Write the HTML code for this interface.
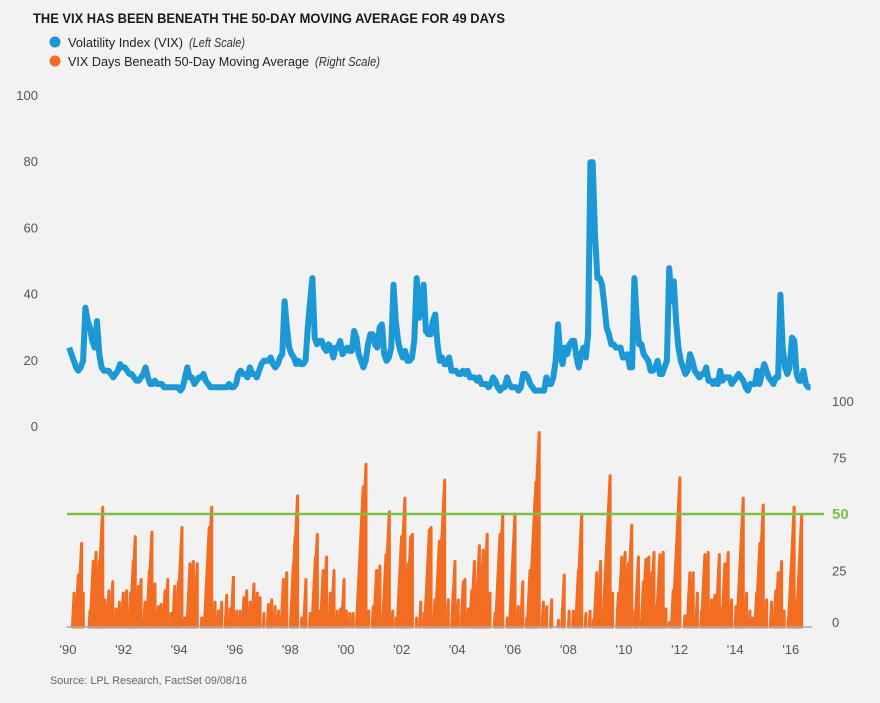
<!DOCTYPE html>
<html><head><meta charset="utf-8"><style>
html,body{margin:0;padding:0;background:#f2f2f2;}
svg{display:block;font-family:"Liberation Sans Narrow","Liberation Sans",sans-serif;}
</style></head><body>
<svg id="chart" width="880" height="703" viewBox="0 0 880 703">
<rect x="0" y="0" width="880" height="703" fill="#f2f2f2"/>
<text x="33" y="23" font-size="14" font-weight="bold" fill="#1a1a1a" textLength="472" lengthAdjust="spacingAndGlyphs">THE VIX HAS BEEN BENEATH THE 50-DAY MOVING AVERAGE FOR 49 DAYS</text>
<g>
<circle cx="55" cy="42" r="5.5" fill="#1b98d5"/>
<text x="68" y="47" font-size="13" fill="#222" textLength="115" lengthAdjust="spacingAndGlyphs">Volatility Index (VIX)</text>
<text x="189" y="47" font-size="13" font-style="italic" fill="#333" textLength="56" lengthAdjust="spacingAndGlyphs">(Left Scale)</text>
<circle cx="55" cy="61" r="5.5" fill="#f26c22"/>
<text x="68" y="66" font-size="13" fill="#222" textLength="241" lengthAdjust="spacingAndGlyphs">VIX Days Beneath 50-Day Moving Average</text>
<text x="315" y="66" font-size="13" font-style="italic" fill="#333" textLength="65" lengthAdjust="spacingAndGlyphs">(Right Scale)</text>
</g>
<g id="left-axis"></g>
<g id="right-axis"></g>
<g id="x-axis"></g>
<g id="orange-series"></g>
<line x1="67" y1="627" x2="812" y2="627" stroke="#aaa" stroke-width="1.5"/>
<g id="green-line-g"></g>
<g id="blue-series"></g>
<text x="50" y="684" font-size="11" fill="#666" textLength="197" lengthAdjust="spacingAndGlyphs">Source: LPL Research, FactSet   09/08/16</text>
</svg>
<script>
const leftTicks = [0,20,40,60,80,100];
const rightTicks = [0,25,50,75,100];
const xTickYears = [1990,1992,1994,1996,1998,2000,2002,2004,2006,2008,2010,2012,2014,2016];
const xTickLabels = ["'90","'92","'94","'96","'98","'00","'02","'04","'06","'08","'10","'12","'14","'16"];
const threshold = 50;
const vixStartYear = 1990;
const vixMonthly = [
24,22,20,18,17,18,20,36,32,30,26,24,
32,22,18,17,17,17,16,15,16,17,19,18,
18,17,16,16,15,14,14,15,16,18,15,13,
13,14,13,13,13,12,12,12,12,12,12,12,
11,12,15,18,15,15,13,14,15,15,16,14,
13,12,12,12,12,12,12,12,12,13,12,12,
13,16,17,16,16,15,18,16,16,15,17,19,
20,20,20,21,19,18,19,21,22,38,30,24,
22,21,19,20,19,19,20,30,38,45,27,25,
26,26,24,23,25,24,21,24,24,26,22,23,
24,23,23,29,27,22,20,18,20,25,28,28,
25,24,30,31,22,20,21,24,43,32,26,23,
21,23,20,20,21,26,45,33,38,43,29,28,
28,32,34,25,20,21,19,19,21,17,17,17,
16,16,17,16,17,15,15,15,14,15,13,13,
13,12,13,15,14,12,11,12,12,15,13,12,
12,12,11,12,16,16,15,13,12,11,11,11,
11,11,15,13,13,15,20,31,22,19,24,22,
25,26,26,21,18,22,24,21,28,80,80,58,
45,45,43,37,30,28,25,25,24,24,24,21,
21,22,18,18,45,33,25,25,22,21,20,17,
17,18,20,16,16,18,20,48,38,44,32,24,
20,18,16,17,22,20,17,16,15,16,16,18,
14,14,13,14,13,17,14,15,15,15,13,14,
15,16,15,14,12,11,13,13,13,17,13,16,
19,17,15,14,13,15,15,40,24,18,16,18,
27,26,16,14,14,17,13,12,12];
const episodeEnd = [1990.22,1990.37,1990.49,1990.55,1990.79,1990.91,1991.01,1991.13,1991.25,1991.33,1991.47,1991.61,1991.73,1991.85,1991.99,1992.11,1992.25,1992.35,1992.42,1992.54,1992.63,1992.77,1992.93,1993.02,1993.13,1993.25,1993.35,1993.49,1993.59,1993.71,1993.84,1993.97,1994.10,1994.21,1994.39,1994.51,1994.65,1994.81,1994.99,1995.08,1995.17,1995.29,1995.41,1995.53,1995.71,1995.83,1995.95,1996.07,1996.19,1996.33,1996.43,1996.55,1996.69,1996.81,1996.91,1997.05,1997.21,1997.33,1997.45,1997.57,1997.75,1997.87,1998.11,1998.17,1998.26,1998.41,1998.56,1998.71,1998.82,1998.90,1998.97,1999.06,1999.18,1999.30,1999.44,1999.57,1999.69,1999.81,1999.93,2000.02,2000.14,2000.26,2000.44,2000.56,2000.62,2000.72,2000.82,2000.98,2001.10,2001.22,2001.34,2001.44,2001.56,2001.68,2001.80,2001.92,2002.00,2002.12,2002.24,2002.33,2002.39,2002.54,2002.69,2002.81,2002.90,2003.00,2003.06,2003.20,2003.36,2003.55,2003.68,2003.86,2003.92,2004.04,2004.22,2004.28,2004.40,2004.52,2004.62,2004.80,2004.94,2005.08,2005.18,2005.36,2005.54,2005.64,2005.80,2005.96,2006.08,2006.20,2006.36,2006.50,2006.62,2006.83,2006.95,2007.10,2007.22,2007.40,2007.64,2007.85,2008.03,2008.18,2008.36,2008.48,2008.63,2008.78,2008.90,2009.02,2009.16,2009.38,2009.50,2009.59,2009.80,2009.92,2010.04,2010.16,2010.28,2010.40,2010.52,2010.70,2010.79,2010.89,2011.00,2011.08,2011.15,2011.29,2011.41,2011.51,2011.63,2011.77,2011.92,2012.01,2012.19,2012.28,2012.37,2012.49,2012.64,2012.79,2012.91,2013.03,2013.15,2013.27,2013.43,2013.51,2013.63,2013.75,2013.87,2014.03,2014.17,2014.29,2014.41,2014.53,2014.63,2014.77,2014.89,2015.01,2015.13,2015.31,2015.46,2015.55,2015.67,2015.76,2015.91,2016.00,2016.12,2016.21,2016.31,2016.39,2016.47,2016.57,2016.69];
const episodeDays = [15,23,37,15,7,29,33,29,53,12,16,20,8,11,15,16,15,29,40,18,21,11,25,42,19,9,10,16,21,6,18,20,44,4,28,29,28,4,19,44,53,11,7,11,14,8,22,7,7,13,16,11,19,15,13,6,10,12,9,7,21,24,28,40,58,4,21,6,9,31,41,7,25,31,15,25,7,8,21,7,6,6,12,35,62,72,7,9,25,27,4,32,51,7,4,15,40,57,28,40,41,4,11,6,17,43,44,12,38,65,12,15,29,12,20,21,8,16,29,36,34,41,15,6,41,50,4,15,50,9,20,4,25,64,86,11,9,12,3,23,7,7,25,50,6,7,3,24,29,15,67,15,15,31,33,28,45,7,31,20,30,31,24,33,9,32,33,8,2,16,16,66,5,5,24,24,15,7,32,33,12,14,32,8,28,33,12,9,11,57,15,7,4,15,37,54,12,11,16,24,29,7,4,10,53,12,18,49];

const NS = 'http://www.w3.org/2000/svg';
const X0 = 68, PX_PER_YEAR = 27.8;
function xScale(yr){ return X0 + (yr - 1990) * PX_PER_YEAR; }
function yLeft(v){ return 427 - v * 3.31; }
function yRight(v){ return 627 - v * 2.26; }
function mk(tag, attrs, parent){
  const el = document.createElementNS(NS, tag);
  for (const k in attrs) el.setAttribute(k, attrs[k]);
  parent.appendChild(el);
  return el;
}
const la = document.getElementById('left-axis');
leftTicks.forEach(t => {
  const el = mk('text', {x: 38, y: yLeft(t) + 4, 'text-anchor': 'end', 'font-size': 13, fill: '#555'}, la);
  el.textContent = String(t);
  
  
});
const ra = document.getElementById('right-axis');
rightTicks.forEach(t => {
  const isT = t === threshold;
  const el = mk('text', {x: 832, y: yRight(t) + (t === 0 ? 0 : 5), 'font-size': isT ? 15 : 13, 'font-weight': isT ? 'bold' : 'normal', fill: isT ? '#7dc242' : '#555'}, ra);
  el.textContent = String(t);
  
  
});
const xa = document.getElementById('x-axis');
xTickYears.forEach((yr, i) => {
  const el = mk('text', {x: xScale(yr), y: 654, 'text-anchor': 'middle', 'font-size': 13, fill: '#555'}, xa);
  el.textContent = xTickLabels[i];
  
  
});
const og = document.getElementById('orange-series');
episodeEnd.forEach((end, i) => {
  const d = episodeDays[i];
  const start = end - d / 252;
  const pts = `${xScale(start)},${yRight(0)} ${xScale(end)},${yRight(d)} ${xScale(end)},${yRight(0)}`;
  const p = mk('polygon', {points: pts, fill: '#f26c22', stroke: '#f26c22', 'stroke-width': 3, 'stroke-linejoin': 'round'}, og);
  
  
});
const gg = document.getElementById('green-line-g');
const gl = mk('line', {x1: 67, x2: 824, y1: yRight(threshold), y2: yRight(threshold), stroke: '#7dc242', 'stroke-width': 2.5}, gg);


const bg = document.getElementById('blue-series');
const bpts = vixMonthly.map((v, i) => `${xScale(vixStartYear + (i + 0.5) / 12).toFixed(1)},${yLeft(v).toFixed(1)}`).join(' ');
const bl = mk('polyline', {points: bpts, fill: 'none', stroke: '#1b98d5', 'stroke-width': 6, 'stroke-linejoin': 'round'}, bg);


</script>
</body></html>
